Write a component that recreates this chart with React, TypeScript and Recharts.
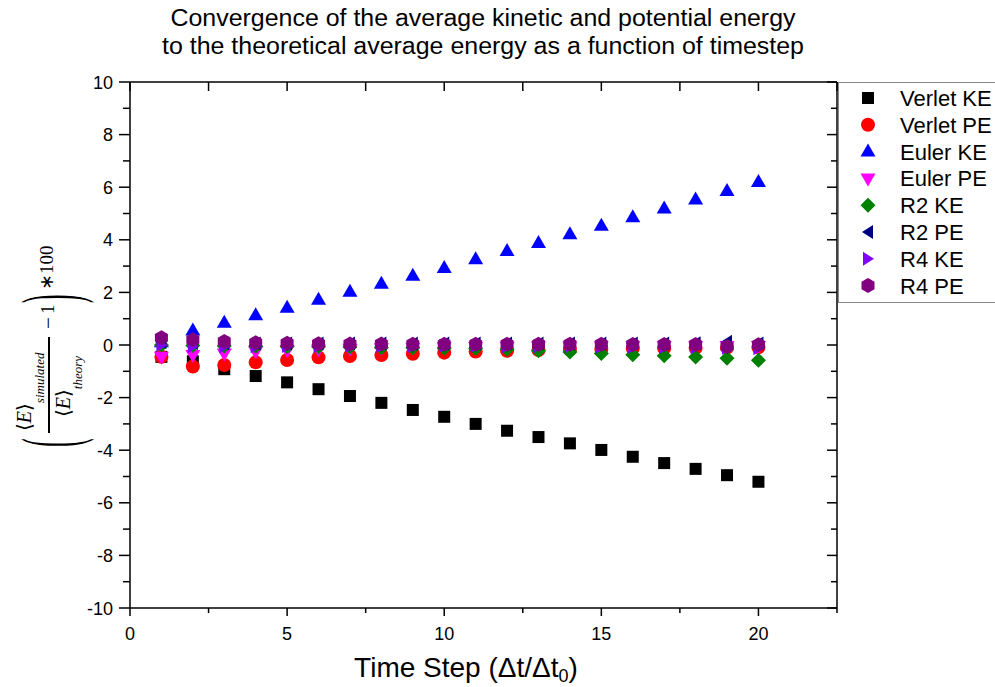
import React from 'react';
import { ScatterChart, Scatter, XAxis, YAxis, Legend } from 'recharts';

// time step (Δt/Δt0)
const timeSteps = [1, 2, 3, 4, 5, 6, 7, 8, 9, 10, 11, 12, 13, 14, 15, 16, 17, 18, 19, 20];

// relative error in percent
const verletKE = [-0.45, -0.62, -0.92, -1.18, -1.42, -1.68, -1.94, -2.2, -2.47, -2.73, -3.0, -3.26, -3.5, -3.74, -3.99, -4.25, -4.49, -4.71, -4.95, -5.2];
const verletPE = [-0.45, -0.82, -0.76, -0.66, -0.57, -0.47, -0.42, -0.38, -0.33, -0.29, -0.25, -0.22, -0.19, -0.17, -0.15, -0.13, -0.12, -0.11, -0.1, -0.09];
const eulerKE = [0.1, 0.55, 0.85, 1.13, 1.42, 1.72, 2.02, 2.33, 2.63, 2.93, 3.26, 3.57, 3.88, 4.21, 4.53, 4.86, 5.19, 5.53, 5.86, 6.2];
const eulerPE = [-0.45, -0.38, -0.32, -0.25, -0.2, -0.17, -0.14, -0.12, -0.1, -0.09, -0.08, -0.07, -0.06, -0.06, -0.05, -0.05, -0.05, -0.05, -0.04, -0.04];
const r2KE = [0.0, -0.02, -0.04, -0.05, -0.06, -0.07, -0.08, -0.1, -0.1, -0.12, -0.13, -0.16, -0.22, -0.27, -0.32, -0.37, -0.41, -0.46, -0.5, -0.58];
const r2PE = [0.1, 0.08, 0.07, 0.06, 0.06, 0.06, 0.06, 0.06, 0.06, 0.06, 0.06, 0.06, 0.06, 0.06, 0.06, 0.06, 0.06, 0.07, 0.12, 0.06];
const r4KE = [0.0, -0.05, -0.06, -0.05, -0.04, -0.04, -0.04, -0.04, -0.04, -0.04, -0.04, -0.05, -0.05, -0.05, -0.06, -0.07, -0.08, -0.09, -0.1, -0.12];
const r4PE = [0.28, 0.2, 0.13, 0.09, 0.07, 0.05, 0.04, 0.04, 0.03, 0.03, 0.03, 0.03, 0.03, 0.03, 0.03, 0.02, 0.02, 0.02, -0.06, 0.01];

const xDomain = [0, 22.5];
const yDomain = [-10, 10];
const xMajorTicks = [0, 5, 10, 15, 20];
const xMinorTicks = [2.5, 7.5, 12.5, 17.5, 22.5];
const yMajorTicks = [-10, -8, -6, -4, -2, 0, 2, 4, 6, 8, 10];
const yMinorTicks = [-9, -7, -5, -3, -1, 1, 3, 5, 7, 9];

const titleLines = [
  'Convergence of the average kinetic and potential energy',
  'to the theoretical average energy as a function of timestep',
];

type MarkerKind = 'square' | 'circle' | 'up' | 'down' | 'diamond' | 'left' | 'right' | 'hexagon';

const series: { name: string; values: number[]; color: string; marker: MarkerKind }[] = [
  { name: 'Verlet KE', values: verletKE, color: '#000000', marker: 'square' },
  { name: 'Verlet PE', values: verletPE, color: '#ff0000', marker: 'circle' },
  { name: 'Euler KE', values: eulerKE, color: '#0000ff', marker: 'up' },
  { name: 'Euler PE', values: eulerPE, color: '#ff00ff', marker: 'down' },
  { name: 'R2 KE', values: r2KE, color: '#008000', marker: 'diamond' },
  { name: 'R2 PE', values: r2PE, color: '#000080', marker: 'left' },
  { name: 'R4 KE', values: r4KE, color: '#8000ff', marker: 'right' },
  { name: 'R4 PE', values: r4PE, color: '#800080', marker: 'hexagon' },
];

// plot box in page pixels
const W = 995;
const H = 687;
const PLOT_LEFT = 130;
const PLOT_TOP = 82;
const PLOT_RIGHT = 837;
const PLOT_BOTTOM = 608;
const X_AXIS_H = 50;
const Y_AXIS_W = 60;

const SANS = '"Liberation Sans", Arial, sans-serif';
const SERIF = '"Liberation Serif", "Times New Roman", serif';

const Marker = ({ kind, cx, cy, color }: { kind: MarkerKind; cx: number; cy: number; color: string }) => {
  const pts = (arr: number[][]) => arr.map(([dx, dy]) => `${cx + dx},${cy + dy}`).join(' ');
  switch (kind) {
    case 'square':
      return <rect x={cx - 6} y={cy - 6} width={12} height={12} fill={color} />;
    case 'circle':
      return <circle cx={cx} cy={cy} r={7} fill={color} />;
    case 'up':
      return <polygon points={pts([[0, -8], [-7.5, 5], [7.5, 5]])} fill={color} />;
    case 'down':
      return <polygon points={pts([[0, 8], [-7.5, -5], [7.5, -5]])} fill={color} />;
    case 'diamond':
      return <polygon points={pts([[0, -7.5], [7.5, 0], [0, 7.5], [-7.5, 0]])} fill={color} />;
    case 'left':
      return <polygon points={pts([[-6, 0], [5, -7], [5, 7]])} fill={color} />;
    case 'right':
      return <polygon points={pts([[6, 0], [-5, -7], [-5, 7]])} fill={color} />;
    case 'hexagon':
      return <polygon points={pts([[0, -7.5], [6.5, -3.75], [6.5, 3.75], [0, 7.5], [-6.5, 3.75], [-6.5, -3.75]])} fill={color} />;
  }
  return null;
};

const BottomTick = (props: any) => {
  const { x, y, payload } = props;
  const major = xMajorTicks.includes(payload.value);
  return (
    <g>
      <line x1={x} y1={y} x2={x} y2={y + (major ? 8 : 5)} stroke="#000" strokeWidth={1.5} />
      {major && (
        <text x={x} y={y + 32} textAnchor="middle" fontSize={18} fontFamily={SANS} fill="#000">
          {payload.value}
        </text>
      )}
    </g>
  );
};

const LeftTick = (props: any) => {
  const { x, y, payload } = props;
  const major = yMajorTicks.includes(payload.value);
  return (
    <g>
      <line x1={x} y1={y} x2={x - (major ? 11 : 7)} y2={y} stroke="#000" strokeWidth={1.5} />
      {major && (
        <text x={x - 17} y={y + 6.5} textAnchor="end" fontSize={18} fontFamily={SANS} fill="#000">
          {payload.value}
        </text>
      )}
    </g>
  );
};

const RightTick = (props: any) => {
  const { x, y, payload } = props;
  const major = yMajorTicks.includes(payload.value);
  return <line x1={x} y1={y} x2={x - (major ? 10 : 6)} y2={y} stroke="#000" strokeWidth={1.5} />;
};

const LegendBox = () => (
  <svg width={157} height={222} style={{ display: 'block', overflow: 'hidden' }}>
    <rect x={0} y={0} width={157} height={222} fill="#fff" />
    <line x1={0} y1={0.5} x2={157} y2={0.5} stroke="#888" />
    <line x1={0.5} y1={0} x2={0.5} y2={221} stroke="#888" />
    <line x1={0} y1={220.5} x2={157} y2={220.5} stroke="#888" />
    {series.map((s, i) => {
      const cy = 16 + i * 26.8;
      return (
        <g key={s.name}>
          <Marker kind={s.marker} cx={30} cy={cy} color={s.color} />
          <text x={62} y={cy + 8} fontSize={22} fontFamily={SANS} fill="#000">
            {s.name}
          </text>
        </g>
      );
    })}
  </svg>
);

const xTicks = [...xMajorTicks, ...xMinorTicks].sort((a, b) => a - b);
const yTicks = [...yMajorTicks, ...yMinorTicks].sort((a, b) => a - b);

// top edge of the frame with inward ticks (same positions as the bottom axis ticks)
const topTickX = (t: number) => PLOT_LEFT + ((t - xDomain[0]) / (xDomain[1] - xDomain[0])) * (PLOT_RIGHT - PLOT_LEFT);

export default function App() {
  return (
    <div style={{ position: 'absolute', left: 0, top: 0, width: W, height: H }}>
      <ScatterChart
        width={W}
        height={H}
        margin={{
          top: PLOT_TOP,
          right: W - PLOT_RIGHT - 1,
          bottom: H - PLOT_BOTTOM - X_AXIS_H,
          left: PLOT_LEFT - Y_AXIS_W,
        }}
      >
        <XAxis
          xAxisId={0}
          type="number"
          dataKey="x"
          domain={xDomain}
          ticks={xTicks}
          interval={0}
          height={X_AXIS_H}
          tickSize={0}
          tickMargin={0}
          tick={BottomTick}
          axisLine={{ stroke: '#000', strokeWidth: 1.5 }}
          allowDataOverflow
        />
        <YAxis
          yAxisId={0}
          type="number"
          dataKey="y"
          domain={yDomain}
          ticks={yTicks}
          interval={0}
          width={Y_AXIS_W}
          tickSize={0}
          tickMargin={0}
          tick={LeftTick}
          axisLine={{ stroke: '#000', strokeWidth: 1.5 }}
          allowDataOverflow
        />
        <YAxis
          yAxisId={1}
          orientation="right"
          type="number"
          dataKey="y"
          domain={yDomain}
          ticks={yTicks}
          interval={0}
          width={1}
          tickSize={0}
          tickMargin={0}
          tick={RightTick}
          axisLine={{ stroke: '#000', strokeWidth: 1.5 }}
          allowDataOverflow
        />
        {/* invisible copy so the right frame axis is active */}
        <Scatter
          yAxisId={1}
          data={timeSteps.map((t, i) => ({ x: t, y: verletKE[i] }))}
          isAnimationActive={false}
          legendType="none"
          shape={() => <g />}
        />
        {series.map((s) => (
          <Scatter
            key={s.name}
            name={s.name}
            data={timeSteps.map((t, i) => ({ x: t, y: s.values[i] }))}
            fill={s.color}
            isAnimationActive={false}
            shape={(p: any) => <Marker kind={s.marker} cx={p.cx} cy={p.cy} color={s.color} />}
          />
        ))}
        <Legend
          layout="vertical"
          align="center"
          verticalAlign="middle"
          content={LegendBox}
          wrapperStyle={{ left: PLOT_RIGHT + 1, top: PLOT_TOP, width: 157, height: 222 }}
        />
      </ScatterChart>
      <svg
        width={W}
        height={H}
        style={{ position: 'absolute', left: 0, top: 0, pointerEvents: 'none' }}
      >
        <line x1={PLOT_LEFT} x2={PLOT_RIGHT} y1={PLOT_TOP} y2={PLOT_TOP} stroke="#000" strokeWidth={1.5} />
        {xTicks.map((t) => (
          <line key={t} x1={topTickX(t)} x2={topTickX(t)} y1={PLOT_TOP} y2={PLOT_TOP + 9} stroke="#000" strokeWidth={1.5} />
        ))}
        {titleLines.map((line, i) => (
          <text
            key={i}
            x={483}
            y={26 + i * 28}
            textAnchor="middle"
            fontSize={23}
            fontFamily={SANS}
            fill="#000"
            textLength={i === 0 ? 625 : 642}
            lengthAdjust="spacingAndGlyphs"
          >
            {line}
          </text>
        ))}
        <text x={466} y={677} textAnchor="middle" fontSize={28} fontFamily={SANS} fill="#000">
          Time Step (Δt/Δt<tspan fontSize={18} dy={5}>0</tspan>
          <tspan dy={-5}>)</tspan>
        </text>
        <g transform="translate(50,345) rotate(-90)" fill="#000">
          <text transform="translate(-102,0) scale(1,3.1)" fontSize={26} fontFamily={SERIF} dominantBaseline="central">
            (
          </text>
          <text x={-86} y={-19} fontSize={20} fontFamily={SERIF}>
            <tspan fontFamily="DejaVu Serif">⟨</tspan>
            <tspan fontStyle="italic">E</tspan>
            <tspan fontFamily="DejaVu Serif">⟩</tspan>
            <tspan fontSize={13} fontStyle="italic" dy={13}>simulated</tspan>
          </text>
          <line x1={-88} x2={8} y1={-1} y2={-1} stroke="#000" strokeWidth={2} />
          <text x={-72} y={20} fontSize={20} fontFamily={SERIF}>
            <tspan fontFamily="DejaVu Serif">⟨</tspan>
            <tspan fontStyle="italic">E</tspan>
            <tspan fontFamily="DejaVu Serif">⟩</tspan>
            <tspan fontSize={13} fontStyle="italic" dy={12}>theory</tspan>
          </text>
          <text x={16} y={5} fontSize={21} fontFamily={SERIF}>−</text>
          <text x={31} y={4} fontSize={19} fontFamily={SERIF}>1</text>
          <text transform="translate(42,0) scale(1,3.1)" fontSize={26} fontFamily={SERIF} dominantBaseline="central">
            )
          </text>
          <text x={55} y={3} fontSize={19} fontFamily={SERIF}>∗100</text>
        </g>
      </svg>
    </div>
  );
}
